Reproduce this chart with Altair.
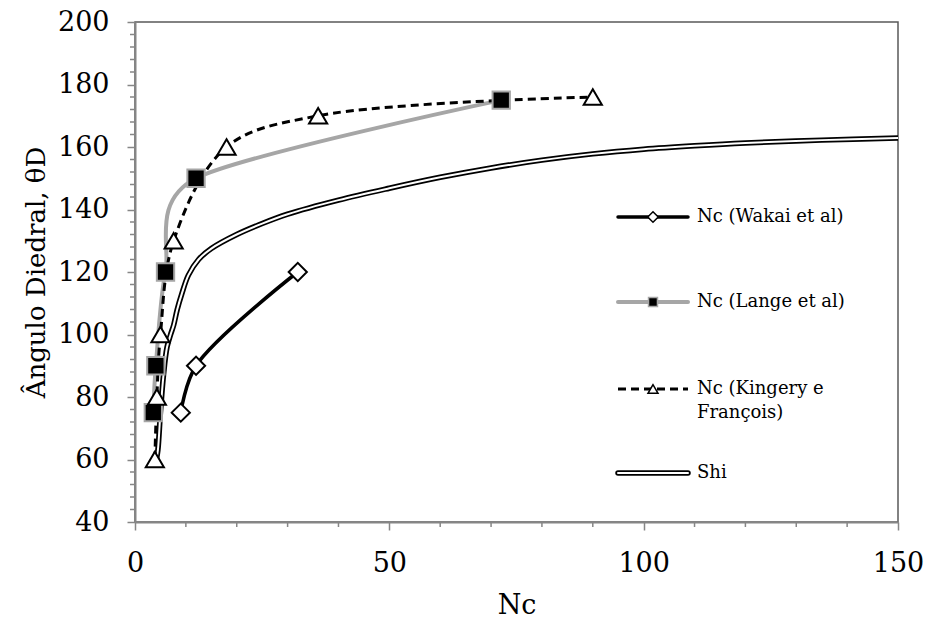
import altair as alt
import pandas as pd

# ---- data ----
wakai_nc = [9, 12, 32]
wakai_theta = [75, 90, 120]

lange_nc = [3.6, 4.1, 6.0, 12, 72]
lange_theta = [75, 90, 120, 150, 175]

kingery_nc = [3.9, 4.3, 5.0, 7.6, 18, 36, 90]
kingery_theta = [60, 80, 100, 130, 160, 170, 176]

shi_nc = [4.2, 4.5, 5.0, 5.6, 6.3, 7.0, 7.6, 8.3, 9.2, 10.5, 12.5, 15, 20, 25, 30,
          40, 50, 60, 70, 80, 90, 100, 110, 120, 135, 150]
shi_theta = [60, 63, 75, 87, 96, 100, 103, 108, 113, 119, 124, 127.5, 132, 135.5, 138.5,
             143, 146.8, 150.3, 153.3, 155.8, 157.8, 159.3, 160.4, 161.3, 162.2, 162.9]

legend_labels = ["Nc (Wakai et al)", "Nc (Lange et al)", "Nc (Kingery e", "François)", "Shi"]

x_major = [0, 50, 100, 150]
y_major = list(range(40, 201, 20))
x_minor = [v for v in range(0, 151, 10) if v % 50]
y_minor = [v for v in range(40, 201, 4) if v % 20]

FONT = "DejaVu Serif"
AX = "#868686"
GRAY = "#a6a6a6"

xs = alt.Scale(domain=[0, 150], nice=False, zero=False)
ys = alt.Scale(domain=[40, 200], nice=False, zero=False)


def df(nc, th):
    return pd.DataFrame({"nc": nc, "theta": th})


wakai = df(wakai_nc, wakai_theta)
lange = df(lange_nc, lange_theta)
kingery = df(kingery_nc, kingery_theta)
shi = df(shi_nc, shi_theta)

x_axis = alt.Axis(values=x_major, title="Nc", grid=False, tickSize=8, tickColor=AX, tickWidth=1.5,
                  domainColor=AX, domainWidth=2, labelFont=FONT, labelFontSize=27, labelColor="black",
                  labelPadding=20, labelFlush=False, titleFont=FONT, titleFontSize=27,
                  titleFontWeight="normal", titleColor="black", titlePadding=16)
y_axis = alt.Axis(values=y_major, title="Ângulo Diedral, θD", grid=False, tickSize=8, tickColor=AX,
                  tickWidth=1.5, domainColor=AX, domainWidth=2, labelFont=FONT, labelFontSize=27,
                  labelColor="black", labelPadding=18, labelFlush=False, titleFont=FONT,
                  titleFontSize=26, titleFontWeight="normal", titleColor="black", titlePadding=8)

X = alt.X("nc:Q", scale=xs, axis=x_axis)
Y = alt.Y("theta:Q", scale=ys, axis=y_axis)


def enc(chart):
    return chart.encode(x=X, y=Y)


# minor ticks
xminor = alt.Chart(pd.DataFrame({"nc": x_minor})).mark_rule(color=AX, strokeWidth=1.5).encode(
    x=X, y=alt.value(500), y2=alt.value(505))
yminor = alt.Chart(pd.DataFrame({"theta": y_minor})).mark_rule(color=AX, strokeWidth=1.5).encode(
    y=Y, x=alt.value(-5), x2=alt.value(0))

wakai_line = enc(alt.Chart(wakai).mark_line(color="black", strokeWidth=3.5, interpolate="catmull-rom"))
lange_line = enc(alt.Chart(lange).mark_line(color=GRAY, strokeWidth=4, interpolate="cardinal",
                                            tension=0.2))
king_line = enc(alt.Chart(kingery).mark_line(color="black", strokeWidth=3, strokeDash=[8, 5],
                                             interpolate="catmull-rom"))
shi_outer = enc(alt.Chart(shi).mark_line(color="black", strokeWidth=5.5, interpolate="catmull-rom"))
shi_inner = enc(alt.Chart(shi).mark_line(color="white", strokeWidth=2, interpolate="catmull-rom"))

wakai_pts = enc(alt.Chart(wakai).mark_point(shape="diamond", size=330, filled=True, fill="white",
                                            stroke="black", strokeWidth=2, opacity=1))
lange_pts = enc(alt.Chart(lange).mark_point(shape="square", size=300, filled=True, fill="black",
                                            stroke=GRAY, strokeWidth=2, opacity=1))
king_pts = enc(alt.Chart(kingery).mark_point(shape="triangle-up", size=330, filled=True, fill="white",
                                             stroke="black", strokeWidth=2, opacity=1))

# ---- manual legend ----
LX1, LX2, LXM, LXT = 483, 553, 518, 562
rows = [195, 280, 367, 451]
leg = []


def one(label):
    return alt.Chart(pd.DataFrame({"label": [label]}))


leg.append(one(legend_labels[0]).mark_rule(color="black", strokeWidth=3.5, strokeCap="round").encode(
    x=alt.value(LX1), x2=alt.value(LX2), y=alt.value(rows[0])))
leg.append(one(legend_labels[0]).mark_point(shape="diamond", size=110, filled=True, fill="white",
                                            stroke="black", strokeWidth=1.5, opacity=1).encode(
    x=alt.value(LXM), y=alt.value(rows[0])))
leg.append(one(legend_labels[1]).mark_rule(color=GRAY, strokeWidth=4, strokeCap="round").encode(
    x=alt.value(LX1), x2=alt.value(LX2), y=alt.value(rows[1])))
leg.append(one(legend_labels[1]).mark_point(shape="square", size=80, filled=True, fill="black",
                                            stroke=GRAY, strokeWidth=1.5, opacity=1).encode(
    x=alt.value(LXM), y=alt.value(rows[1])))
leg.append(one(legend_labels[2]).mark_rule(color="black", strokeWidth=3, strokeDash=[8, 5]).encode(
    x=alt.value(LX1), x2=alt.value(LX2), y=alt.value(rows[2])))
leg.append(one(legend_labels[2]).mark_point(shape="triangle-up", size=100, filled=True, fill="white",
                                            stroke="black", strokeWidth=1.5, opacity=1).encode(
    x=alt.value(LXM), y=alt.value(rows[2])))
leg.append(one(legend_labels[4]).mark_rule(color="black", strokeWidth=5.5, strokeCap="round").encode(
    x=alt.value(LX1), x2=alt.value(LX2), y=alt.value(rows[3])))
leg.append(one(legend_labels[4]).mark_rule(color="white", strokeWidth=2, strokeCap="round").encode(
    x=alt.value(LX1), x2=alt.value(LX2), y=alt.value(rows[3])))

text_y = [rows[0], rows[1], rows[2], rows[2] + 24, rows[3]]
for lab, ty in zip(legend_labels, text_y):
    leg.append(one(lab).mark_text(align="left", baseline="middle", font=FONT, fontSize=18,
                                  color="black").encode(
        x=alt.value(LXT), y=alt.value(ty), text="label:N"))

chart = alt.layer(
    xminor, yminor,
    shi_outer, shi_inner, wakai_line, lange_line, king_line,
    wakai_pts, lange_pts, king_pts,
    *leg
).properties(
    width=763, height=500,
    autosize=alt.AutoSizeParams(type="none"),
    padding={"left": 135, "top": 22, "right": 30, "bottom": 102},
    background="white",
).configure_view(stroke="#595959", strokeWidth=1.5)

chart.save("out.html", embed_options={"renderer": "svg", "actions": False})
